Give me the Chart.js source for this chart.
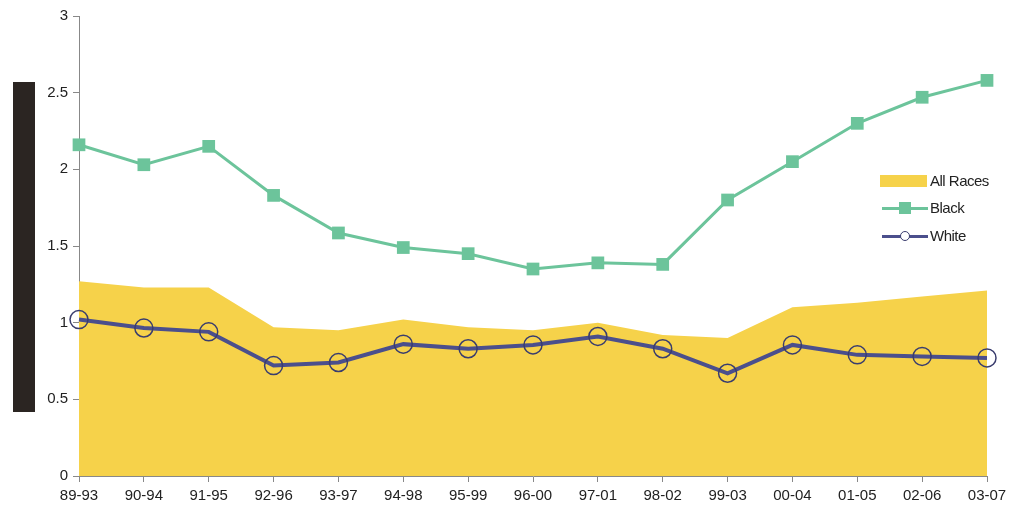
<!DOCTYPE html>
<html>
<head>
<meta charset="utf-8">
<script src="https://cdn.jsdelivr.net/npm/chart.js@4/dist/chart.umd.min.js"></script>
<style>
  body { margin: 0; background: #fff; font-family: "Liberation Sans", Arial, sans-serif; }
  #wrap { position: relative; width: 1013px; height: 517px; }
  #bar { position: absolute; left: 13px; top: 82px; width: 22px; height: 330px; background: #2b2522; }
  .leg { position: absolute; left: 880px; font-size: 15px; color: #222; letter-spacing: -0.5px; }
  .leg .txt { position: absolute; left: 50px; top: -9px; white-space: nowrap; }
</style>
</head>
<body>
<div id="wrap">
  <canvas id="c" width="1013" height="517"></canvas>
  <div id="bar"></div>
  <div class="leg" style="top:181px">
    <div style="position:absolute;left:0;top:-6px;width:47px;height:12px;background:#f6d24a"></div>
    <span class="txt">All Races</span>
  </div>
  <div class="leg" style="top:208px">
    <div style="position:absolute;left:2px;top:-1.5px;width:46px;height:3px;background:#6cc49b"></div>
    <div style="position:absolute;left:19px;top:-6px;width:12px;height:12px;background:#6cc49b"></div>
    <span class="txt">Black</span>
  </div>
  <div class="leg" style="top:236px">
    <div style="position:absolute;left:2px;top:-1.5px;width:46px;height:3px;background:#4b4f8c"></div>
    <div style="position:absolute;left:20px;top:-5px;width:8px;height:8px;border:1.5px solid #3a3d6e;border-radius:50%;background:#fff"></div>
    <span class="txt">White</span>
  </div>
</div>
<script>
const labels = ["89-93","90-94","91-95","92-96","93-97","94-98","95-99","96-00","97-01","98-02","99-03","00-04","01-05","02-06","03-07"];
const allRaces = [1.27,1.23,1.23,0.97,0.95,1.02,0.97,0.95,1.00,0.92,0.90,1.10,1.13,1.17,1.21];
const black = [2.16,2.03,2.15,1.83,1.585,1.49,1.45,1.35,1.39,1.38,1.80,2.05,2.30,2.47,2.58];
const white = [1.02,0.965,0.94,0.72,0.74,0.86,0.83,0.855,0.91,0.83,0.67,0.855,0.79,0.78,0.77];
const yTicks = ["0","0.5","1","1.5","2","2.5","3"];

const ctx = document.getElementById("c").getContext("2d");
new Chart(ctx, {
  type: "line",
  data: {
    labels: labels,
    datasets: [
      {
        label: "All Races",
        data: allRaces,
        fill: "origin",
        backgroundColor: "#f6d24a",
        borderWidth: 0,
        borderColor: "rgba(0,0,0,0)",
        pointRadius: 0,
        tension: 0,
        order: 3
      },
      {
        label: "Black",
        data: black,
        borderColor: "#6cc49b",
        backgroundColor: "#6cc49b",
        borderWidth: 3,
        pointStyle: "rect",
        pointRadius: 9,
        pointBorderWidth: 0,
        tension: 0,
        order: 1
      },
      {
        label: "White",
        data: white,
        borderColor: "#4b4f8c",
        borderWidth: 4,
        pointStyle: "circle",
        pointRadius: 9,
        pointBorderColor: "#3a3d6e",
        pointBorderWidth: 1.5,
        pointBackgroundColor: "rgba(0,0,0,0)",
        tension: 0,
        order: 2
      }
    ]
  },
  options: {
    responsive: false,
    animation: false,
    layout: { padding: { left: 0, right: 26, top: 16, bottom: 0 } },
    plugins: { legend: { display: false }, tooltip: { enabled: false } },
    scales: {
      x: {
        offset: false,
        grid: { display: true, drawOnChartArea: false, drawTicks: true, tickLength: 6, color: "#888" },
        border: { color: "#888", width: 1 },
        ticks: { color: "#222", font: { family: "Liberation Sans", size: 15 }, maxRotation: 0, autoSkip: false, padding: 5 },
        afterFit: function(s) { s.height = 41; }
      },
      y: {
        min: 0, max: 3,
        grid: { display: true, drawOnChartArea: false, drawTicks: true, tickLength: 6, color: "#888" },
        border: { color: "#888", width: 1 },
        ticks: {
          stepSize: 0.5,
          color: "#222",
          font: { family: "Liberation Sans", size: 15 },
          padding: 5,
          callback: function(v, i) { return yTicks[i]; }
        },
        afterFit: function(s) { s.width = 79; }
      }
    }
  }
});
</script>
</body>
</html>
